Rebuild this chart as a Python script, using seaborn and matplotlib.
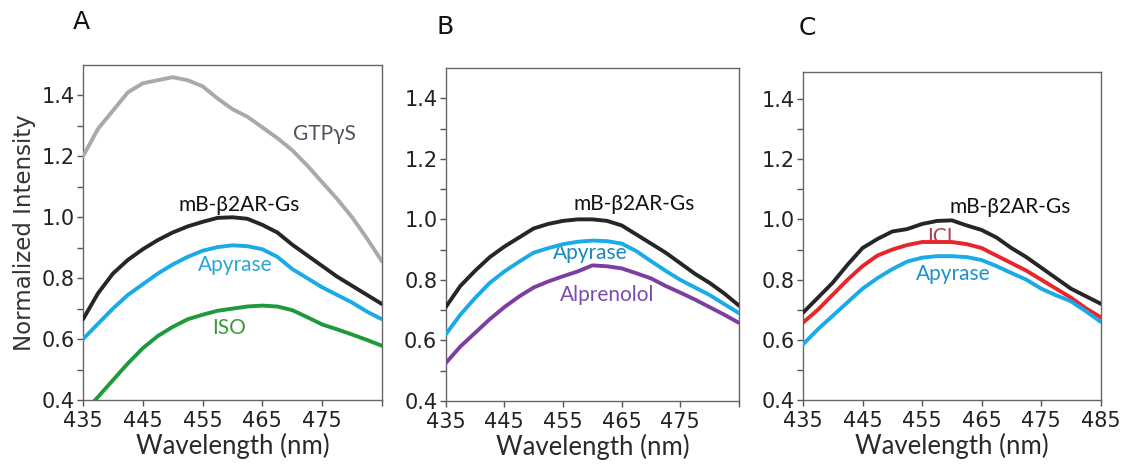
import numpy as np
import pandas as pd
import matplotlib
matplotlib.use("Agg")
import matplotlib.pyplot as plt
import seaborn as sns

# ---------------- data ----------------
wavelength = [435, 437.5, 440, 442.5, 445, 447.5, 450, 452.5, 455, 457.5, 460,
              462.5, 465, 467.5, 470, 472.5, 475, 477.5, 480, 482.5, 485]

# Panel A
a_gtp = [1.20, 1.29, 1.35, 1.41, 1.44, 1.45, 1.46, 1.45, 1.43, 1.39, 1.355,
         1.33, 1.295, 1.26, 1.22, 1.17, 1.115, 1.06, 1.00, 0.93, 0.855]
a_base = [0.665, 0.75, 0.815, 0.86, 0.895, 0.925, 0.95, 0.97, 0.985, 0.998, 1.0,
          0.995, 0.975, 0.95, 0.91, 0.875, 0.84, 0.805, 0.775, 0.745, 0.715]
a_apy = [0.60, 0.65, 0.70, 0.745, 0.78, 0.815, 0.845, 0.87, 0.89, 0.902, 0.908,
         0.905, 0.895, 0.87, 0.83, 0.80, 0.77, 0.745, 0.72, 0.69, 0.665]
a_iso = [0.355, 0.41, 0.465, 0.52, 0.57, 0.61, 0.64, 0.665, 0.68, 0.693, 0.70,
         0.707, 0.71, 0.707, 0.695, 0.672, 0.648, 0.632, 0.615, 0.597, 0.578]

# Panel B
b_base = [0.71, 0.78, 0.83, 0.875, 0.91, 0.94, 0.97, 0.985, 0.995, 1.0, 1.0,
          0.995, 0.98, 0.95, 0.92, 0.89, 0.855, 0.82, 0.79, 0.755, 0.715]
b_apy = [0.62, 0.685, 0.74, 0.79, 0.828, 0.86, 0.89, 0.905, 0.918, 0.926, 0.93,
         0.928, 0.92, 0.895, 0.862, 0.83, 0.80, 0.775, 0.75, 0.72, 0.69]
b_alp = [0.525, 0.58, 0.625, 0.67, 0.71, 0.745, 0.775, 0.795, 0.812, 0.828, 0.848,
         0.845, 0.838, 0.822, 0.805, 0.78, 0.758, 0.735, 0.71, 0.685, 0.658]

# Panel C
c_base = [0.69, 0.74, 0.79, 0.85, 0.905, 0.935, 0.96, 0.968, 0.985, 0.995, 0.997,
          0.98, 0.965, 0.94, 0.905, 0.875, 0.84, 0.805, 0.77, 0.745, 0.72]
c_ici = [0.657, 0.70, 0.75, 0.80, 0.845, 0.88, 0.90, 0.915, 0.925, 0.925, 0.925,
         0.918, 0.905, 0.88, 0.855, 0.83, 0.80, 0.77, 0.74, 0.705, 0.675]
c_apy = [0.585, 0.635, 0.68, 0.725, 0.77, 0.805, 0.835, 0.86, 0.873, 0.878, 0.878,
         0.875, 0.865, 0.845, 0.822, 0.80, 0.77, 0.748, 0.728, 0.695, 0.66]

panel_letters = ["A", "B", "C"]
ytick_vals = [0.4, 0.5, 0.6, 0.7, 0.8, 0.9, 1.0, 1.1, 1.2, 1.3, 1.4]
ytick_labels = ["0.4", "", "0.6", "", "0.8", "", "1.0", "", "1.2", "", "1.4"]
xtick_vals = [435, 445, 455, 465, 475, 485]
xtick_labels_ab = ["435", "445", "455", "465", "475", ""]
xtick_labels_c = ["435", "445", "455", "465", "475", "485"]

# ---------------- style ----------------
sns.set_theme(style="ticks")
plt.rcParams["font.family"] = ["DejaVu Sans"]

C_GRAY = "#a9a9a9"
C_BLACK = "#262626"
C_CYAN = "#1aaae8"
C_GREEN = "#1e9a3c"
C_PURPLE = "#7d3f9f"
C_RED = "#e8252b"

label_font = ["Lato", "DejaVu Sans"]

fig = plt.figure(figsize=(11.3, 4.66), dpi=100)
axes = [
    fig.add_axes([83 / 1130, 1 - 400 / 466, 299 / 1130, 335 / 466]),
    fig.add_axes([445.7 / 1130, 1 - 401 / 466, 293.3 / 1130, 333 / 466]),
    fig.add_axes([803 / 1130, 1 - 400 / 466, 297.7 / 1130, 328 / 466]),
]

panels = [
    [(a_gtp, C_GRAY), (a_base, C_BLACK), (a_apy, C_CYAN), (a_iso, C_GREEN)],
    [(b_base, C_BLACK), (b_apy, C_CYAN), (b_alp, C_PURPLE)],
    [(c_base, C_BLACK), (c_ici, C_RED), (c_apy, C_CYAN)],
]

ylims = [(0.4, 1.5), (0.4, 1.5), (0.4, 1.49)]

for i, ax in enumerate(axes):
    for vals, col in panels[i]:
        df = pd.DataFrame({"wl": wavelength, "v": vals})
        sns.lineplot(data=df, x="wl", y="v", ax=ax, color=col, linewidth=2.8, zorder=3)
    ax.set_xlim(435, 485)
    ax.set_ylim(*ylims[i])
    ax.set_xticks(xtick_vals)
    ax.set_xticklabels(xtick_labels_c if i == 2 else xtick_labels_ab)
    ax.set_yticks(ytick_vals)
    ax.set_yticklabels(ytick_labels)
    ax.tick_params(axis="both", direction="out", length=4, width=1, color="#555555",
                   labelsize=15, labelcolor="#222222")
    ax.tick_params(axis="y", pad=2)
    ax.tick_params(axis="x", pad=4)
    for s in ax.spines.values():
        s.set_visible(True)
        s.set_color("#666666")
        s.set_linewidth(1.0)
    ax.set_xlabel("Wavelength (nm)", family=label_font, fontsize=18.5, color="#2a2a2a", labelpad=1)
    ax.set_ylabel("")

axes[0].set_ylabel("Normalized Intensity", fontsize=16.5, color="#333333", labelpad=4)

# panel letters
letter_pos = [(81, 22), (445, 27), (807, 28)]
for (px, py), letter in zip(letter_pos, panel_letters):
    fig.text(px / 1130, 1 - py / 466, letter, fontsize=18, color="#111111",
             ha="center", va="center")

# annotations
ann = [
    (0, "GTPγS", 475.3, 1.275, "#505060"),
    (0, "mB-β2AR-Gs", 461.2, 1.04, "#111111"),
    (0, "Apyrase", 460.5, 0.843, "#2aa8d2"),
    (0, "ISO", 459.5, 0.636, "#3a9a3a"),
    (1, "mB-β2AR-Gs", 467.2, 1.05, "#111111"),
    (1, "Apyrase", 459.6, 0.888, "#1a86c0"),
    (1, "Alprenolol", 462.6, 0.75, "#7a4cb0"),
    (2, "mB-β2AR-Gs", 469.8, 1.043, "#111111"),
    (2, "ICI", 458.0, 0.943, "#a84050"),
    (2, "Apyrase", 460.2, 0.82, "#1e90d0"),
]
for idx, txt, x, y, col in ann:
    axes[idx].text(x, y, txt, family=label_font, fontsize=15, color=col,
                   ha="center", va="center", zorder=2)

fig.savefig("out.png", dpi=100)
